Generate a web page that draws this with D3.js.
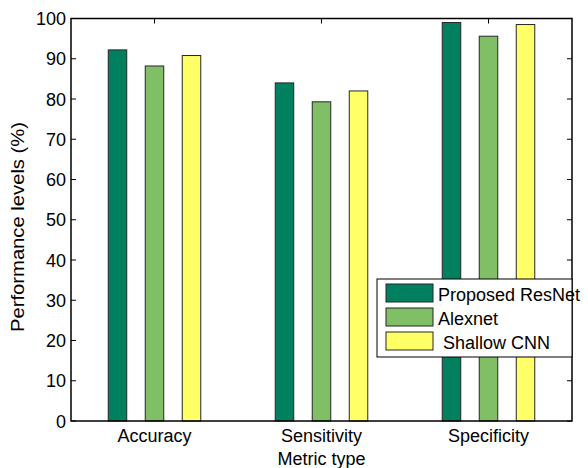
<!DOCTYPE html>
<html><head><meta charset="utf-8">
<script src="https://cdn.jsdelivr.net/npm/d3@7"></script>
<style>body{margin:0;background:#fff}svg{display:block}text{font-family:"Liberation Sans",Arial,sans-serif;fill:#000}</style>
</head><body>
<svg id="c" width="588" height="468"></svg>
<script>
const categories = ["Accuracy", "Sensitivity", "Specificity"];
const seriesNames = ["Proposed ResNet", "Alexnet", "Shallow CNN"];
const resnet = [92.2, 84.0, 99.0];
const alexnet = [88.2, 79.3, 95.6];
const shallow = [90.8, 82.0, 98.5];
const yTicks = [0, 10, 20, 30, 40, 50, 60, 70, 80, 90, 100];
const colors = ["#00805f", "#80bf66", "#ffff66"];
const seriesValues = [resnet, alexnet, shallow];

const svg = d3.select("#c");
const L = 71, R = 572, T = 18.5, B = 421;
const x = d3.scaleBand().domain(categories).range([L, R]).paddingInner(0).paddingOuter(0);
const y = d3.scaleLinear().domain([0, 100]).range([B, T]);
const half = x.bandwidth() * 0.277;
const xs = d3.scaleBand().domain(seriesNames).range([-half, half]).paddingInner(0.5).paddingOuter(0);

// ticks (inside)
const tk = svg.append("g").attr("stroke", "#000").attr("stroke-width", 1);
yTicks.forEach(t => {
  tk.append("line").attr("x1", L).attr("x2", L + 5).attr("y1", y(t)).attr("y2", y(t));
  tk.append("line").attr("x1", R - 5).attr("x2", R).attr("y1", y(t)).attr("y2", y(t));
});
categories.forEach(c => {
  const cx = x(c) + x.bandwidth() / 2;
  tk.append("line").attr("x1", cx).attr("x2", cx).attr("y1", T).attr("y2", T + 5);
  tk.append("line").attr("x1", cx).attr("x2", cx).attr("y1", B).attr("y2", B - 5);
});

// bars
seriesNames.forEach((s, si) => {
  svg.append("g").selectAll("rect").data(categories).join("rect")
    .attr("x", c => x(c) + x.bandwidth() / 2 + xs(s))
    .attr("width", xs.bandwidth())
    .attr("y", (c, i) => y(seriesValues[si][i]))
    .attr("height", (c, i) => B - y(seriesValues[si][i]))
    .attr("fill", colors[si])
    .attr("stroke", "#262626").attr("stroke-width", 1);
});

// frame
svg.append("rect").attr("x", L).attr("y", T).attr("width", R - L).attr("height", B - T)
  .attr("fill", "none").attr("stroke", "#000").attr("stroke-width", 1.5);

// tick labels
svg.append("g").selectAll("text").data(yTicks).join("text")
  .attr("x", L - 5).attr("y", d => y(d) + 6.5).attr("text-anchor", "end")
  .attr("font-size", 18).text(d => d);
svg.append("g").selectAll("text").data(categories).join("text")
  .attr("x", d => x(d) + x.bandwidth() / 2).attr("y", 442).attr("text-anchor", "middle")
  .attr("font-size", 18).text(d => d);

// axis labels
svg.append("text").attr("x", x(categories[1]) + x.bandwidth() / 2).attr("y", 465)
  .attr("text-anchor", "middle").attr("font-size", 18).text("Metric type");
svg.append("text").attr("transform", "translate(24,227) rotate(-90)")
  .attr("text-anchor", "middle").attr("font-size", 18)
  .attr("textLength", 210).attr("lengthAdjust", "spacingAndGlyphs")
  .text("Performance levels (%)");

// legend
const lg = svg.append("g");
lg.append("rect").attr("x", 377).attr("y", 279).attr("width", 195).attr("height", 78)
  .attr("fill", "#fff").attr("stroke", "#000").attr("stroke-width", 1);
const labels = ["Proposed ResNet", "Alexnet", " Shallow CNN"];
seriesNames.forEach((s, i) => {
  const yy = 284 + i * 24;
  lg.append("rect").attr("x", 386).attr("y", yy).attr("width", 47).attr("height", 18)
    .attr("fill", colors[i]).attr("stroke", "#262626").attr("stroke-width", 1);
  lg.append("text").attr("x", 438).attr("y", yy + 17).attr("font-size", 18)
    .attr("xml:space", "preserve").style("white-space", "pre").text(labels[i]);
});
</script>
</body></html>
